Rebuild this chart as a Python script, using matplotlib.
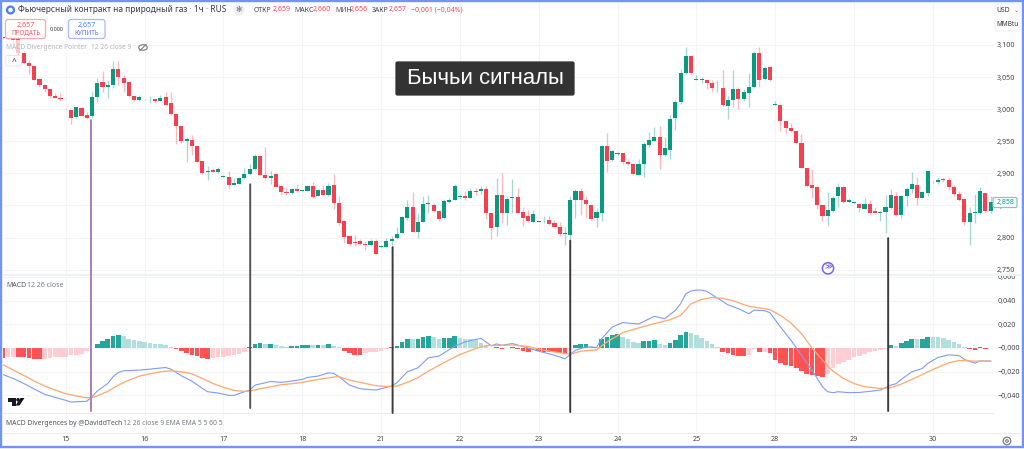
import numpy as np
import matplotlib
matplotlib.use("Agg")
import matplotlib.pyplot as plt
from matplotlib.patches import ConnectionPatch, FancyBboxPatch, Circle, Ellipse, Polygon, Rectangle

W, H = 1024, 449
plt.rcParams["font.family"] = ["Noto Sans", "DejaVu Sans"]

# Hourly natural gas candles, prices in thousandths of USD/MMBtu
opens = [3111,3112,3110,3109,3088,3072,3067,3047,3037,3032,3020,3018,2998,2998,2988,3002,2991,2989,3019,3042,
         3034,3037,3063,3049,3042,3021,3015,3015,3014,3016,3013,3019,3010,2992,2973,2951,2952,2942,2919,2902,
         2905,2902,2895,2895,2882,2884,2893,2899,2907,2927,2898,2892,2899,2880,2871,2869,2875,2872,2873,2881,
         2865,2874,2866,2882,2854,2825,2802,2793,2794,2790,2788,2795,2786,2786,2794,2799,2807,2830,2847,2809,
         2824,2853,2851,2842,2830,2855,2858,2863,2865,2862,2873,2873,2876,2838,2816,2867,2839,2861,2863,2840,
         2833,2824,2824,2825,2828,2823,2816,2806,2804,2858,2872,2859,2850,2830,2839,2942,2921,2930,2932,2918,
         2915,2898,2915,2944,2951,2957,2928,2936,2986,3011,3056,3083,3046,3046,3046,3040,3034,3033,3005,3014,
         3031,3016,3025,3034,3087,3047,3066,3007,3007,2982,2971,2966,2948,2909,2882,2879,2851,2833,2842,2864,
         2879,2856,2854,2852,2845,2852,2842,2839,2840,2846,2865,2835,2865,2875,2882,2862,2870,2886,2886,2891,
         2889,2878,2868,2860,2824,2838,2838,2869,2841]
highs = [3113,3114,3113,3111,3092,3076,3067,3048,3039,3032,3025,3025,3001,2998,3004,3003,2996,3029,3048,3060,
         3045,3075,3075,3054,3042,3021,3022,3016,3020,3017,3022,3027,3026,2992,2973,2957,2959,2942,2919,2911,
         2908,2910,2897,2903,2892,2894,2909,2914,2930,2929,2941,2903,2900,2880,2879,2877,2883,2874,2882,2887,
         2875,2882,2885,2899,2864,2828,2803,2804,2797,2794,2798,2797,2788,2800,2802,2816,2833,2859,2871,2838,
         2865,2866,2854,2843,2860,2862,2884,2868,2872,2877,2877,2881,2881,2838,2892,2901,2864,2891,2877,2848,
         2843,2843,2826,2833,2834,2828,2824,2816,2864,2875,2877,2865,2851,2846,2944,2963,2936,2933,2932,2922,
         2915,2922,2949,2964,2972,2973,2957,2991,3014,3063,3097,3084,3053,3050,3047,3046,3046,3061,3020,3061,
         3034,3032,3057,3090,3097,3068,3067,3012,3008,2982,2979,2966,2961,2909,2907,2880,2851,2871,2864,2885,
         2880,2862,2856,2853,2861,2858,2847,2841,2866,2875,2871,2866,2879,2902,2894,2873,2903,2888,2895,2892,
         2895,2882,2873,2860,2847,2868,2878,2869,2864]
lows = [3110,3108,3100,3084,3071,3055,3045,3034,3027,3018,3018,3013,2998,2977,2987,2990,2985,2987,3011,3027,
        3017,3033,3037,3026,3019,3013,3013,3014,3010,3009,3012,3006,2991,2946,2948,2917,2929,2917,2899,2890,
        2902,2901,2894,2876,2882,2884,2891,2898,2906,2898,2890,2883,2878,2866,2866,2868,2872,2872,2872,2861,
        2864,2865,2865,2844,2820,2791,2787,2787,2788,2781,2787,2775,2786,2785,2788,2797,2807,2828,2809,2800,
        2824,2839,2840,2825,2829,2854,2858,2861,2858,2862,2866,2868,2829,2798,2803,2822,2820,2838,2839,2818,
        2824,2824,2824,2822,2820,2816,2803,2788,2796,2831,2835,2830,2827,2817,2826,2902,2920,2929,2914,2913,
        2897,2897,2895,2941,2950,2907,2927,2923,2967,3008,3055,3055,3045,3041,3032,3027,3027,3005,2985,3003,
        3000,3013,3003,3033,3035,3045,3044,3006,2966,2963,2965,2945,2908,2879,2862,2845,2826,2818,2840,2848,
        2854,2855,2853,2840,2844,2836,2838,2826,2807,2845,2834,2830,2849,2869,2851,2862,2865,2885,2883,2887,
        2874,2865,2857,2819,2788,2823,2837,2838,2838]
closes = [3112,3110,3108,3087,3072,3067,3046,3037,3032,3020,3018,3016,2999,2986,3003,2990,2986,3019,3041,3034,
          3037,3063,3050,3041,3021,3015,3019,3015,3015,3013,3017,3007,2992,2973,2951,2953,2942,2918,2900,2904,
          2902,2907,2896,2882,2885,2893,2899,2907,2927,2898,2892,2896,2879,2871,2870,2876,2873,2874,2881,2863,
          2874,2866,2881,2854,2823,2801,2790,2791,2790,2788,2795,2775,2787,2794,2798,2806,2832,2847,2809,2824,
          2852,2854,2842,2829,2857,2859,2881,2865,2861,2873,2871,2876,2838,2815,2866,2839,2860,2863,2839,2831,
          2825,2836,2825,2826,2821,2817,2805,2807,2858,2873,2858,2852,2829,2840,2942,2920,2935,2932,2918,2914,
          2899,2915,2945,2952,2957,2928,2940,2984,3011,3056,3083,3057,3047,3047,3040,3033,3035,3006,3014,3031,
          3016,3026,3034,3087,3046,3064,3045,3008,2981,2970,2966,2947,2909,2881,2877,2851,2833,2843,2862,2879,
          2856,2859,2855,2846,2852,2839,2839,2840,2847,2866,2835,2865,2876,2884,2862,2871,2903,2887,2890,2889,
          2878,2868,2859,2824,2838,2840,2872,2841,2856]

# MACD histogram per bar, in thousandths
macd_hist = [-8.4,-7.9,-7.3,-7.6,-7.9,-8.4,-9.0,-9.6,-9.0,-8.4,-8.1,-7.9,-7.3,-6.2,-5.6,-4.8,-2.8,0.3,3.7,5.6,
             7.9,10.1,10.7,9.8,7.9,6.7,5.6,5.1,4.2,3.7,3.1,2.5,1.1,-0.6,-2.8,-4.2,-5.6,-7.0,-8.4,-9.0,
             -8.4,-7.9,-7.3,-6.7,-6.2,-5.1,-3.7,0.8,3.7,3.8,3.4,3.7,2.2,1.7,0.8,1.4,1.7,2.2,2.8,2.5,
             2.8,2.5,3.7,2.0,0.8,-2.8,-4.5,-5.6,-5.9,-4.5,-3.9,-3.4,-2.5,-1.1,0.6,2.0,4.8,7.9,7.3,7.6,
             9.3,10.4,9.6,7.9,8.4,8.7,10.1,8.7,7.9,7.6,7.0,4.2,1.7,-0.3,0.6,-0.6,0.2,0.6,-0.6,-2.5,
             -3.4,-2.2,-2.8,-3.4,-3.5,-3.7,-4.2,-4.5,0.3,2.2,3.1,3.2,1.4,0.8,7.6,9.6,11.2,11.8,9.0,7.9,
             5.1,3.9,5.9,6.2,6.3,3.4,2.5,3.9,7.0,10.7,13.5,12.9,11.2,8.4,5.9,3.1,1.1,-3.1,-4.5,-5.6,
             -6.7,-7.0,-5.6,-1.1,-3.7,-3.1,-4.2,-10.1,-12.9,-14.6,-15.7,-16.9,-19.7,-21.9,-23.0,-24.2,-24.4,-22.5,-17.4,-14.0,
             -12.1,-10.1,-7.9,-6.7,-4.8,-3.9,-2.8,-2.0,-0.8,2.8,2.0,3.9,5.9,7.9,7.3,7.6,9.3,9.2,9.0,8.1,
             6.7,5.3,3.4,0.6,-0.8,-1.4,0.6,-0.6,0.3]

# MACD line, read at these bars
macd_bars = [0,2,4,6,8,10,12,13,16,17,18,20,21,22,23,26,28,31,32,34,36,38,39,41,43,44,46,47,48,50,51,53,55,57,58,60,62,63,64,
             66,68,71,74,75,77,79,81,83,86,88,91,93,94,95,97,99,102,105,107,109,111,113,114,116,118,121,124,126,128,129,
             130,131,132,133,134,136,138,140,142,143,145,146,148,150,152,154,156,157,158,159,161,163,165,167,169,170,171,173,175,176,178,180,182,183,185,186,188]
macd_line = [-22.5,-25.9,-30.1,-34.8,-39.3,-41.9,-44.4,-45.8,-45.2,-41.3,-36.5,-30.1,-24.4,-20.8,-19.4,-18.8,-18.0,-16.6,-18.0,-23.6,
             -28.1,-34.3,-37.1,-38.2,-40.2,-40.2,-37.1,-35.7,-31.5,-29.5,-28.4,-29.2,-28.1,-26.7,-25.0,-23.9,-21.1,-21.6,-24.4,
             -31.5,-34.6,-35.7,-32.3,-29.5,-20.2,-16.9,-8.4,-7.0,1.4,5.1,8.1,1.7,3.4,2.2,3.7,1.1,-2.8,-6.2,-9.3,-2.0,0.8,0.3,7.9,17.7,21.4,20.2,26.7,24.7,31.8,37.4,
             45.8,48.1,48.9,48.9,47.8,42.2,36.5,33.2,28.9,32.0,31.5,29.8,17.7,6.5,-6.2,-18.8,-32.9,-37.1,-37.9,-37.1,-37.9,-37.7,-36.8,-35.7,-31.5,-30.3,-26.7,-20.2,-17.4,-13.2,-8.1,-5.9,-6.5,-9.8,-12.9,-11.0,-11.2]

# Signal line, read at these bars
signal_bars = [0,2,4,6,8,10,12,14,16,17,18,20,22,24,26,28,30,32,34,36,38,40,42,44,46,47,49,51,53,55,57,59,61,63,64,
               66,68,71,73,75,77,79,81,84,87,90,92,95,97,100,103,106,108,110,113,115,118,121,124,127,129,
               131,133,135,137,139,142,145,146,148,150,152,154,156,158,160,162,164,167,169,171,174,177,180,182,185,188]
signal_line = [-14.1,-18.8,-23.3,-28.1,-32.3,-35.7,-38.8,-40.7,-42.2,-42.2,-40.5,-36.8,-31.5,-27.3,-23.9,-21.9,-20.2,-19.4,-20.2,-21.9,
               -25.9,-30.1,-33.4,-36.0,-36.8,-36.5,-34.6,-32.9,-31.2,-30.3,-29.2,-27.5,-26.1,-24.7,-24.4,
               -27.3,-29.2,-32.0,-32.6,-32.3,-29.2,-25.3,-19.7,-12.4,-5.6,-0.6,2.0,2.2,2.5,1.1,-2.0,-4.2,-5.3,-2.8,-1.7,5.1,12.9,16.9,20.5,23.9,27.5,
               37.4,41.0,42.7,41.9,39.9,35.1,33.2,32.3,27.5,21.1,12.1,0.0,-10.4,-19.7,-25.9,-30.1,-32.9,-34.3,-33.7,-30.6,-24.7,-18.3,-12.6,-10.7,-11.2,-11.2]

# Vertical signal markers: bar, price at the top end, MACD value at the bottom end, colour
signal_marks = [16.8, 47.1, 74.2, 108.0, 168.5]
signal_tops = [2983, 2883, 2785, 2795, 2799]
signal_ends = [-53.4, -50.9, -55.1, -54.3, -53.4]
signal_colors = ["#a67fb8", "#555555", "#3c3c3c", "#3c3c3c", "#3c3c3c"]

day_bars = [12, 27, 42, 57, 72, 87, 102, 117, 132, 147, 162, 177]
day_labels = ["15", "16", "17", "18", "21", "22", "23", "24", "25", "28", "29", "30"]
price_ticks = [2750, 2800, 2850, 2900, 2950, 3000, 3050, 3100]
macd_ticks = [-40, -20, 0, 20, 40, 60]
macd_tick_labels = ["−0,040", "−0,020", "−0,000", "0,020", "0,040", "0,060"]

UP, DOWN = "#089981", "#f7404f"
GRID = "#f3f4f6"
TXT = "#434651"
LABEL = 5.2


def pane(left, top, right, bottom, **kw):
    return fig.add_axes([left / W, 1 - bottom / H, (right - left) / W, (bottom - top) / H], **kw)


fig = plt.figure(figsize=(W / 100, H / 100), dpi=100, facecolor="white")
ax = pane(3, 3, 993, 274)
macd = pane(3, 277, 993, 413, sharex=ax)
extra = pane(3, 413, 993, 432, sharex=ax)

for a in (ax, macd, extra):
    for s in a.spines.values():
        s.set_visible(False)
    a.set_axisbelow(True)
    a.xaxis.grid(True, color=GRID, lw=0.8)
    a.tick_params(length=0)
    a.set_xticks(day_bars)
ax.set_xlim(0.06, 188.45)

# Candles
opens_a, closes_a = np.array(opens) / 1000, np.array(closes) / 1000
highs_a, lows_a = np.array(highs) / 1000, np.array(lows) / 1000
bars = np.arange(len(opens))
colors = [UP if c >= o else DOWN for o, c in zip(opens_a, closes_a)]
ax.vlines(bars, lows_a, highs_a, colors=colors, lw=0.95, alpha=0.36, zorder=2)
ax.bar(bars, np.abs(closes_a - opens_a), 0.78, bottom=np.minimum(opens_a, closes_a), color=colors, zorder=3)
ax.set_ylim(2.7432, 3.1654)
ax.yaxis.tick_right()
ax.set_yticks(np.array(price_ticks) / 1000)
ax.set_yticklabels([f"{p / 1000:.3f}".replace(".", ",") for p in price_ticks], fontsize=LABEL, color=TXT)
ax.yaxis.grid(True, color=GRID, lw=0.8)
ax.tick_params(axis="y", pad=3, labelright=True)
ax.tick_params(axis="x", labelbottom=False)

# Histogram: strong colour while the bar grows away from zero
hist = np.array(macd_hist) / 1000
hist_colors = []
for i, v in enumerate(hist):
    prev = hist[i - 1] if i else v + (0.0001 if v < 0 else -0.0001)
    if v >= 0:
        hist_colors.append("#26a69a" if v > prev else "#b2dfdb")
    else:
        hist_colors.append("#ff5252" if v < prev else "#ffcdd2")
macd.bar(bars, hist, 0.88, color=hist_colors, zorder=2)
macd.plot(macd_bars, np.array(macd_line) / 1000, color="#7f9cf7", lw=0.8, zorder=3)
macd.plot(signal_bars, np.array(signal_line) / 1000, color="#ffab72", lw=0.95, zorder=4)
macd.set_ylim((347.7 - 413) / 1185, (347.7 - 277) / 1185)
macd.yaxis.tick_right()
macd.set_yticks(np.array(macd_ticks) / 1000)
macd.set_yticklabels(macd_tick_labels, fontsize=LABEL, color=TXT)
macd.yaxis.grid(True, color=GRID, lw=0.8)
macd.tick_params(axis="y", pad=3, labelright=True)
macd.tick_params(axis="x", labelbottom=False)

extra.set_yticks([])
extra.tick_params(axis="x", labelbottom=True, pad=3)
extra.set_xticklabels(day_labels, fontsize=LABEL, color=TXT)

# Markers run from the price pane down through the MACD pane
for b, top, end, col in zip(signal_marks, signal_tops, signal_ends, signal_colors):
    fig.add_artist(ConnectionPatch((b, top / 1000), (b, end / 1000), ax.transData, macd.transData,
                                   color=col, lw=1.4, zorder=12))

# Overlay for the window chrome, in pixel units
ui = fig.add_axes([0, 0, 1, 1], zorder=10, facecolor="none")
ui.set_xlim(0, W)
ui.set_ylim(H, 0)
ui.axis("off")


def label(x, y, s, size=5.0, color=TXT, ha="left", **kw):
    ui.text(x, y, s, fontsize=size, color=color, ha=ha, va="center", **kw)


def box(x0, y0, x1, y1, ec, fc="white", lw=0.9, r=2.5):
    ui.add_patch(FancyBboxPatch((x0, y0), x1 - x0, y1 - y0, boxstyle=f"round,pad=0,rounding_size={r}",
                                ec=ec, fc=fc, lw=lw))


# Pane separators and outer frame
ui.add_patch(Rectangle((3, 274), 1018, 2.4, fc="#f0f1f3", ec="none"))
ui.plot([3, 993], [413, 413], color="#ececee", lw=0.8)
ui.plot([3, 1021], [432.5, 432.5], color="#ececee", lw=0.8)
ui.add_patch(Rectangle((1.2, 1.2), 1021.3, 445.8, fc="none", ec="#7294f5", lw=1.7))

# Header
ui.add_patch(Circle((10.5, 10), 4.6, fc="#4d7df0", ec="none"))
ui.add_patch(Circle((10.5, 10), 2.3, fc="white", ec="none"))
label(18, 10, "Фьючерсный контракт на природный газ · 1ч · RUS", size=6.05, color="#3a3d46")
ui.add_patch(Circle((239, 10), 5.5, fc="#eef0f3", ec="none"))
label(239, 10, "✻", size=5.5, color="#666a75", ha="center")
head = [(254, "ОТКР", TXT), (272.5, "2,659", DOWN), (294, "МАКС", TXT), (312.5, "2,660", DOWN),
        (335, "МИН", TXT), (350, "2,656", DOWN), (372, "ЗАКР", TXT), (389, "2,657", DOWN),
        (411, "−0,001 (−0,04%)", DOWN)]
for x, s, c in head:
    label(x, 10, s, size=5.0, color=c)

# Order buttons
box(5.5, 19.5, 45.5, 38.5, "#f9a9ad")
label(25.5, 25, "2,657", color="#f7525f", ha="center", size=5.2)
label(25.5, 33.2, "ПРОДАТЬ", color="#f7525f", ha="center", size=4.5)
label(57, 29, "0,000", size=3.9, ha="center", color="#333333")
box(68.5, 19.5, 105, 38.5, "#a6bdf8")
label(87, 25, "2,657", color="#4d7df0", ha="center", size=5.2)
label(87, 33.2, "КУПИТЬ", color="#4d7df0", ha="center", size=4.5)

# Pane legends
ui.add_patch(Rectangle((5, 40), 128, 13, fc="white", ec="none", alpha=0.72))
label(6, 47.5, "MACD Divergence Pointer", size=4.8, color="#b4b6bd")
label(91, 47.5, "12 26 close 9", size=4.8, color="#b4b6bd")
ui.add_patch(Ellipse((143, 47.5), 8.5, 5.5, fc="none", ec="#777a84", lw=0.8))
ui.plot([140, 146], [50.5, 44.5], color="#777a84", lw=0.8)
box(6, 55.5, 21.5, 66, "#e6e7ea", lw=0.7, r=1.5)
label(13.7, 61, "^", size=6, color="#333333", ha="center")
label(6, 285.5, "MACD", size=5.0, color="#50535e")
label(27, 285.5, "12 26 close", size=5.0, color="#787b86")
label(6, 423.5, "MACD Divergences by @DaviddTech", size=4.9, color="#50535e")
label(123, 423.5, "12 26 close 9 EMA EMA 5 5 60 5", size=4.9, color="#787b86")

# Caption badge
box(396, 62, 574, 95, "#333333", fc="#333333", r=1.5)
ui.text(485, 78.5, "Бычьи сигналы", fontsize=15.9, color="white", ha="center", va="center",
        family="Liberation Sans")

# Scale controls and last price tag
box(995, 4, 1020, 31, "#eeeff1", lw=0.7)
label(996.5, 10.5, "USD", size=4.9, color="#333333")
label(1016, 10.5, "⌄", size=4.5, ha="center", color="#666666")
label(996.5, 24, "MMBtu", size=4.6, color="#333333")
box(993, 197.5, 1017, 207.5, "#7fcabd", lw=0.9, r=1.5)
label(1006, 202.3, "2,858", size=5.0, color="#089981", ha="center")

# Go-to-realtime button, chart logo and settings icon
ui.add_patch(Circle((828, 268.3), 5.6, fc="white", ec="#7a62f0", lw=1.1))
label(828, 268, "≫", size=5.5, color="#5a45e0", ha="center")
ui.add_patch(Polygon([(7.5, 398), (15.5, 398), (15.5, 405.5), (12, 405.5), (12, 401.5), (7.5, 401.5)], fc="#131722"))
ui.add_patch(Circle((18, 399.8), 1.8, fc="#131722", ec="none"))
ui.add_patch(Polygon([(20.5, 398), (24.5, 398), (19.5, 405.5), (15.5, 405.5)], fc="#131722"))
ui.add_patch(Circle((1007, 441), 3.8, fc="none", ec="#787b86", lw=0.9))
ui.add_patch(Circle((1007, 441), 1.3, fc="none", ec="#787b86", lw=0.8))

fig.savefig("out.png", dpi=100)
